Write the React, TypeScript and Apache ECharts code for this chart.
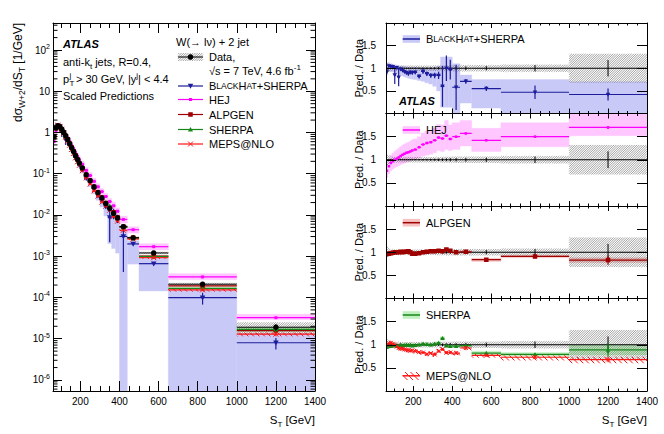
import React, { useEffect, useRef } from "react";
import * as echarts from "echarts";

// ---------------- data ----------------
const binEdges = [60, 70, 80, 90, 100, 110, 120, 130, 140, 150, 160, 170, 180, 190, 200, 220, 240, 260, 280, 300, 320, 340, 360, 380, 400, 440, 500, 650, 1000, 1400];
const xMajorTicks = [200, 400, 600, 800, 1000, 1200, 1400];
const xMinorTicks = [100, 150, 250, 300, 350, 450, 500, 550, 650, 700, 750, 850, 900, 950, 1050, 1100, 1150, 1250, 1300, 1350];
const logDecades = [-7, -6, -5, -4, -3, -2, -1, 0, 1, 2];
const logMinorMultipliers = [2, 3, 4, 5, 6, 7, 8, 9];

// data dsigma/dST [1/GeV]
const dataXS = [0.80, 1.30, 1.45, 1.38, 1.20, 1.00, 0.83, 0.68, 0.54, 0.43, 0.35, 0.275, 0.224, 0.182, 0.138, 0.095, 0.068, 0.048, 0.035, 0.026, 0.019, 0.0145, 0.011, 0.0085, 0.0052, 0.0028, 0.0012, 0.00021, 0.000019];
const dataStat = [0.01, 0.006, 0.006, 0.006, 0.006, 0.006, 0.007, 0.007, 0.008, 0.008, 0.009, 0.01, 0.01, 0.011, 0.012, 0.014, 0.016, 0.018, 0.02, 0.022, 0.025, 0.028, 0.031, 0.035, 0.035, 0.04, 0.045, 0.07, 0.18];
const dataSyst = [0.12, 0.09, 0.07, 0.065, 0.06, 0.06, 0.06, 0.06, 0.06, 0.06, 0.06, 0.06, 0.06, 0.06, 0.06, 0.06, 0.06, 0.06, 0.06, 0.06, 0.06, 0.065, 0.065, 0.065, 0.07, 0.07, 0.07, 0.08, 0.32];

// predictions / data
const bhRatio = [0.93, 1.05, 1.04, 1.03, 0.85, 1.01, 0.80, 0.98, 0.95, 0.92, 0.90, 0.88, 0.91, 0.90, 0.91, 0.82, 0.93, 0.88, 0.84, 0.84, 0.84, 0.60, 1.00, 0.97, 0.58, 0.71, 0.55, 0.47, 0.42];
const bhStat = [0.04, 0.02, 0.02, 0.02, 0.2, 0.03, 0.2, 0.03, 0.03, 0.03, 0.04, 0.04, 0.04, 0.04, 0.04, 0.04, 0.05, 0.05, 0.05, 0.06, 0.08, 0.45, 0.28, 0.22, 0.5, 0.05, 0.05, 0.15, 0.13];
const bhBandLo = [0.85, 0.93, 0.93, 0.92, 0.9, 0.88, 0.86, 0.85, 0.83, 0.81, 0.8, 0.78, 0.77, 0.76, 0.75, 0.73, 0.71, 0.68, 0.65, 0.6, 0.5, 0.14, 0.14, 0.14, 0.0, 0.23, 0.12, 0.0, 0.0];
const bhBandHi = [1.1, 1.12, 1.1, 1.09, 1.08, 1.07, 1.06, 1.05, 1.05, 1.04, 1.03, 1.03, 1.02, 1.02, 1.02, 1.01, 1.01, 1.0, 1.0, 1.0, 1.05, 1.25, 1.25, 1.25, 1.1, 0.85, 0.75, 0.75, 0.7];

const hejRatio = [0.76, 0.86, 0.93, 0.97, 1.0, 1.02, 1.05, 1.08, 1.11, 1.13, 1.15, 1.16, 1.18, 1.2, 1.22, 1.27, 1.33, 1.36, 1.38, 1.42, 1.48, 1.46, 1.52, 1.45, 1.5, 1.57, 1.42, 1.5, 1.7];
const hejStat = [0.02, 0.015, 0.01, 0.01, 0.01, 0.01, 0.01, 0.01, 0.01, 0.01, 0.01, 0.01, 0.01, 0.01, 0.01, 0.012, 0.012, 0.014, 0.015, 0.016, 0.018, 0.02, 0.02, 0.022, 0.02, 0.02, 0.02, 0.025, 0.03];
const hejBandLo = [0.62, 0.7, 0.76, 0.8, 0.83, 0.85, 0.87, 0.89, 0.91, 0.93, 0.95, 0.96, 0.98, 1.0, 1.01, 1.04, 1.08, 1.1, 1.12, 1.15, 1.2, 1.18, 1.22, 1.2, 1.22, 1.3, 1.18, 1.28, 1.52];
const hejBandHi = [0.92, 1.02, 1.1, 1.14, 1.18, 1.21, 1.25, 1.28, 1.31, 1.34, 1.36, 1.38, 1.4, 1.43, 1.45, 1.5, 1.58, 1.62, 1.64, 1.68, 1.76, 1.75, 1.85, 1.75, 1.8, 1.85, 1.68, 1.8, 2.05];

const alpRatio = [0.96, 0.97, 0.98, 0.99, 1.0, 1.0, 1.0, 1.01, 1.0, 1.01, 1.01, 1.02, 1.0, 0.97, 0.97, 0.98, 1.0, 1.01, 1.02, 1.02, 1.03, 1.02, 1.06, 1.03, 1.0, 1.01, 0.84, 0.91, 0.83];
const alpStat = [0.02, 0.01, 0.01, 0.01, 0.01, 0.01, 0.01, 0.01, 0.01, 0.01, 0.01, 0.01, 0.01, 0.01, 0.01, 0.01, 0.012, 0.012, 0.014, 0.015, 0.016, 0.018, 0.02, 0.02, 0.02, 0.02, 0.02, 0.04, 0.1];
const alpBandLo = [0.92, 0.94, 0.95, 0.96, 0.97, 0.97, 0.97, 0.98, 0.97, 0.98, 0.98, 0.99, 0.97, 0.94, 0.94, 0.95, 0.97, 0.98, 0.99, 0.99, 1.0, 0.99, 1.03, 1.0, 0.97, 0.98, 0.8, 0.88, 0.78];
const alpBandHi = [1.0, 1.0, 1.01, 1.02, 1.03, 1.03, 1.03, 1.04, 1.03, 1.04, 1.04, 1.05, 1.03, 1.0, 1.0, 1.01, 1.03, 1.04, 1.05, 1.05, 1.06, 1.05, 1.09, 1.06, 1.03, 1.04, 0.87, 0.94, 0.88];

const shRatio = [0.95, 0.98, 0.97, 0.98, 0.99, 0.97, 0.98, 1.0, 0.98, 0.99, 1.0, 0.99, 1.0, 0.98, 0.99, 1.0, 1.02, 1.01, 1.0, 1.02, 1.04, 1.14, 0.98, 0.97, 0.97, 0.98, 0.82, 0.79, 0.89];
const shStat = [0.02, 0.01, 0.01, 0.01, 0.01, 0.01, 0.01, 0.01, 0.01, 0.01, 0.01, 0.01, 0.01, 0.012, 0.012, 0.012, 0.014, 0.014, 0.016, 0.016, 0.018, 0.03, 0.02, 0.02, 0.02, 0.02, 0.02, 0.03, 0.15];
const shBandLo = [0.92, 0.95, 0.94, 0.95, 0.96, 0.94, 0.95, 0.97, 0.95, 0.96, 0.97, 0.96, 0.97, 0.95, 0.96, 0.97, 0.99, 0.98, 0.97, 0.99, 1.01, 1.1, 0.95, 0.94, 0.94, 0.95, 0.78, 0.75, 0.78];
const shBandHi = [0.98, 1.01, 1.0, 1.01, 1.02, 1.0, 1.01, 1.03, 1.01, 1.02, 1.03, 1.02, 1.03, 1.01, 1.02, 1.03, 1.05, 1.04, 1.03, 1.05, 1.07, 1.18, 1.01, 1.0, 1.0, 1.01, 0.86, 0.83, 1.0];

const mepsRatio = [1.0, 1.03, 1.04, 1.02, 1.0, 0.96, 0.93, 0.92, 0.91, 0.9, 0.89, 0.88, 0.87, 0.88, 0.86, 0.84, 0.83, 0.8, 0.82, 0.79, 0.86, 0.9, 0.83, 0.83, 0.82, 0.93, 0.77, 0.73, 0.68];
const mepsStat = [0.03, 0.02, 0.02, 0.02, 0.02, 0.02, 0.02, 0.02, 0.02, 0.02, 0.02, 0.02, 0.02, 0.02, 0.02, 0.02, 0.025, 0.025, 0.025, 0.03, 0.03, 0.03, 0.03, 0.03, 0.03, 0.03, 0.03, 0.04, 0.06];
const mepsBandLo = [0.95, 0.98, 0.99, 0.97, 0.95, 0.91, 0.88, 0.87, 0.86, 0.85, 0.84, 0.83, 0.82, 0.83, 0.81, 0.79, 0.78, 0.75, 0.77, 0.74, 0.81, 0.85, 0.78, 0.78, 0.77, 0.88, 0.72, 0.66, 0.6];
const mepsBandHi = [1.05, 1.08, 1.09, 1.07, 1.05, 1.01, 0.98, 0.97, 0.96, 0.95, 0.94, 0.93, 0.92, 0.93, 0.91, 0.89, 0.88, 0.85, 0.87, 0.84, 0.91, 0.95, 0.88, 0.88, 0.87, 0.98, 0.8, 0.77, 0.74];

// ---------------- styling ----------------
const FONT = '"Liberation Sans", Arial, Helvetica, sans-serif';
const X_MIN = 60, X_MAX = 1400;
const Y_MIN = 5.4e-7, Y_MAX = 452;
const R_MIN = 0, R_MAX = 2;

const COL = {
  bh: "#1c1c9c", bhBand: "#c9c9f8",
  hej: "#ff00ff", hejBand: "#ffc6ff",
  alp: "#9e0000", alpBand: "#f6c2c2",
  sh: "#17871a", shBand: "#c0f0c0",
  meps: "#ff1414",
  data: "#000000", hatch: "#555555",
};

const binLo = binEdges.slice(0, -1);
const binHi = binEdges.slice(1);
const binC = binLo.map((l, i) => (l + binHi[i]) / 2);

const logMinorTicks: number[] = [];
logDecades.forEach((e) => logMinorMultipliers.forEach((k) => {
  const v = k * Math.pow(10, e);
  if (v > Y_MIN && v < Y_MAX) logMinorTicks.push(v);
}));

const clampLog = (v: number) => Math.max(v, Y_MIN * 0.8);

// ---------------- drawing helpers ----------------
function hatchSegments(x0: number, y0: number, x1: number, y1: number, spacing: number, dir: number, style: any) {
  const out: any[] = [];
  if (x1 <= x0 || y1 <= y0) return out;
  if (dir > 0) {
    const cmin = x0 + y0, cmax = x1 + y1;
    for (let c = Math.ceil(cmin / spacing) * spacing; c <= cmax; c += spacing) {
      const xa = Math.max(x0, c - y1), xb = Math.min(x1, c - y0);
      if (xb > xa) out.push({ type: "line", silent: true, shape: { x1: xa, y1: c - xa, x2: xb, y2: c - xb }, style });
    }
  } else {
    const cmin = x0 - y1, cmax = x1 - y0;
    for (let c = Math.ceil(cmin / spacing) * spacing; c <= cmax; c += spacing) {
      const xa = Math.max(x0, c + y0), xb = Math.min(x1, c + y1);
      if (xb > xa) out.push({ type: "line", silent: true, shape: { x1: xa, y1: xa - c, x2: xb, y2: xb - c }, style });
    }
  }
  return out;
}

function markerShapes(m: string, cx: number, cy: number, s: number, color: string): any[] {
  const h = s / 2;
  switch (m) {
    case "circle": return [{ type: "circle", shape: { cx, cy, r: h }, style: { fill: color } }];
    case "square": return [{ type: "rect", shape: { x: cx - h, y: cy - h, width: s, height: s }, style: { fill: color } }];
    case "small": return [{ type: "rect", shape: { x: cx - h, y: cy - h, width: s, height: s }, style: { fill: color } }];
    case "triDown": return [{ type: "polygon", shape: { points: [[cx - h, cy - s * 0.4], [cx + h, cy - s * 0.4], [cx, cy + s * 0.5]] }, style: { fill: color } }];
    case "triUp": return [{ type: "polygon", shape: { points: [[cx - h, cy + s * 0.4], [cx + h, cy + s * 0.4], [cx, cy - s * 0.5]] }, style: { fill: color } }];
    case "x": return [
      { type: "line", shape: { x1: cx - h, y1: cy - h, x2: cx + h, y2: cy + h }, style: { stroke: color, lineWidth: 1 } },
      { type: "line", shape: { x1: cx - h, y1: cy + h, x2: cx + h, y2: cy - h }, style: { stroke: color, lineWidth: 1 } },
    ];
    default: return [];
  }
}

function fillBand(ax: number[], lowArr: number[], highArr: number[], color: string, yFloor: number, yCeil: number) {
  return {
    type: "custom", xAxisIndex: ax[0], yAxisIndex: ax[1], clip: true, silent: true, z: 2,
    encode: { x: [0, 1], y: [2, 3] },
    data: binLo.map((l, i) => [l, binHi[i], lowArr[i], highArr[i]]),
    renderItem: (params: any, api: any) => {
      const a = api.coord([api.value(0), Math.min(api.value(3), yCeil)]);
      const b = api.coord([api.value(1), Math.max(api.value(2), yFloor)]);
      return { type: "rect", shape: { x: a[0], y: a[1], width: b[0] - a[0], height: b[1] - a[1] }, style: { fill: color, stroke: color, lineWidth: 0.4 } };
    },
  };
}

function hatchBand(ax: number[], lowArr: number[], highArr: number[], color: string, spacing: number, dir: number, lw: number, yFloor: number, yCeil: number) {
  return {
    type: "custom", xAxisIndex: ax[0], yAxisIndex: ax[1], clip: true, silent: true, z: 2,
    encode: { x: [0, 1], y: [2, 3] },
    data: binLo.map((l, i) => [l, binHi[i], lowArr[i], highArr[i]]),
    renderItem: (params: any, api: any) => {
      const a = api.coord([api.value(0), Math.min(api.value(3), yCeil)]);
      const b = api.coord([api.value(1), Math.max(api.value(2), yFloor)]);
      return { type: "group", children: hatchSegments(a[0], a[1], b[0], b[1], spacing, dir, { stroke: color, lineWidth: lw }) };
    },
  };
}

function pointSeries(ax: number[], ys: number[], ylo: number[], yhi: number[], color: string, marker: string, size: number, lw: number, yFloor: number, yCeil: number) {
  return {
    type: "custom", xAxisIndex: ax[0], yAxisIndex: ax[1], clip: true, silent: true, z: 3,
    encode: { x: [0, 1, 2], y: [3, 4, 5] },
    data: binC.map((c, i) => [c, binLo[i], binHi[i], ys[i], ylo[i], yhi[i]]),
    renderItem: (params: any, api: any) => {
      const xc = api.value(0), y = api.value(3);
      const L = api.coord([api.value(1), y]);
      const R = api.coord([api.value(2), y]);
      const T = api.coord([xc, Math.min(api.value(5), yCeil)]);
      const B = api.coord([xc, Math.max(api.value(4), yFloor)]);
      const st = { stroke: color, lineWidth: lw };
      const P = api.coord([xc, y]);
      const children: any[] = [
        { type: "line", shape: { x1: L[0], y1: L[1], x2: R[0], y2: R[1] }, style: st },
        { type: "line", shape: { x1: T[0], y1: T[1], x2: B[0], y2: B[1] }, style: st },
        ...markerShapes(marker, P[0], P[1], size, color),
      ];
      return { type: "group", children };
    },
  };
}

// ---------------- axes ----------------
function xAxesFor(grid: number, majorLen: number, minorLen: number, labels: boolean) {
  const base: any = { type: "value", gridIndex: grid, min: X_MIN, max: X_MAX, splitLine: { show: false }, z: 10 };
  const line = { show: true, onZero: false, lineStyle: { color: "#000", width: 1 } };
  const tickStyle = { color: "#000", width: 1 };
  return [
    { ...base, position: "bottom", axisLine: line, axisTick: { show: true, inside: true, length: majorLen, customValues: xMajorTicks, lineStyle: tickStyle },
      axisLabel: { show: labels, customValues: xMajorTicks, fontSize: 10, color: "#000", margin: 5, fontFamily: FONT, formatter: (v: number) => String(v) } },
    { ...base, position: "bottom", axisLine: { show: false, onZero: false }, axisTick: { show: true, inside: true, length: minorLen, customValues: xMinorTicks, lineStyle: tickStyle }, axisLabel: { show: false } },
    { ...base, position: "top", axisLine: line, axisTick: { show: true, inside: true, length: majorLen, customValues: xMajorTicks, lineStyle: tickStyle }, axisLabel: { show: false } },
    { ...base, position: "top", axisLine: { show: false, onZero: false }, axisTick: { show: true, inside: true, length: minorLen, customValues: xMinorTicks, lineStyle: tickStyle }, axisLabel: { show: false } },
  ];
}

const logLabel = (v: number) => {
  const e = Math.log10(v);
  const r = Math.round(e);
  if (Math.abs(e - r) > 1e-3) return "";
  if (r === 0) return "1";
  if (r === 1) return "10";
  return `10{sup|${r}}`;
};

function mainYAxes() {
  const base: any = { type: "log", logBase: 10, gridIndex: 0, min: Y_MIN, max: Y_MAX, splitLine: { show: false }, minorTick: { show: false }, z: 10 };
  const line = { show: true, onZero: false, lineStyle: { color: "#000", width: 1 } };
  return [
    { ...base, position: "left", axisLine: line, axisTick: { show: true, inside: true, length: 9, lineStyle: { color: "#000" } },
      axisLabel: { show: true, formatter: logLabel, showMinLabel: false, showMaxLabel: false, fontSize: 10, color: "#000", margin: 3, fontFamily: FONT, lineHeight: 14,
        rich: { sup: { fontSize: 7, fontFamily: FONT, color: "#000", verticalAlign: "top" } } } },
    { ...base, position: "right", axisLine: line, axisTick: { show: true, inside: true, length: 9, lineStyle: { color: "#000" } }, axisLabel: { show: false } },
  ];
}

function ratioYAxes(grid: number) {
  const base: any = { type: "value", gridIndex: grid, min: R_MIN, max: R_MAX, interval: 0.5, splitLine: { show: false }, z: 10 };
  const line = { show: true, onZero: false, lineStyle: { color: "#000", width: 1 } };
  return [
    { ...base, position: "left", axisLine: line, axisTick: { show: true, inside: true, length: 10, lineStyle: { color: "#000" } },
      axisLabel: { show: true, fontSize: 10, color: "#000", margin: 10, fontFamily: FONT,
        formatter: (v: number) => (v === 0.5 || v === 1 || v === 1.5 ? String(v) : "") } },
    { ...base, position: "right", axisLine: line, axisTick: { show: true, inside: true, length: 10, lineStyle: { color: "#000" } }, axisLabel: { show: false } },
  ];
}

// ---------------- series ----------------
const mainAx = [0, 0];
const rAx = (g: number) => [g * 4, g * 2];

function mainPred(ratio: number[], stat: number[]) {
  return {
    y: dataXS.map((d, i) => d * ratio[i]),
    lo: dataXS.map((d, i) => clampLog(d * (ratio[i] - stat[i]))),
    hi: dataXS.map((d, i) => d * (ratio[i] + stat[i])),
  };
}
const mainBandLo = (lo: number[]) => dataXS.map((d, i) => clampLog(d * lo[i]));
const mainBandHi = (hi: number[]) => dataXS.map((d, i) => d * hi[i]);

const pBH = mainPred(bhRatio, bhStat);
const pHEJ = mainPred(hejRatio, hejStat);
const pALP = mainPred(alpRatio, alpStat);
const pSH = mainPred(shRatio, shStat);
const pMEPS = mainPred(mepsRatio, mepsStat);

const ones = dataXS.map(() => 1);
const ratioDataLo = dataStat.map((s) => 1 - s);
const ratioDataHi = dataStat.map((s) => 1 + s);
const ratioSystLo = dataSyst.map((s) => 1 - s);
const ratioSystHi = dataSyst.map((s) => 1 + s);
const sub = (a: number[], b: number[]) => a.map((v, i) => v - b[i]);
const add = (a: number[], b: number[]) => a.map((v, i) => v + b[i]);

const HATCH_SP = 2.3, HATCH_LW = 0.55;
const MEPS_SP = 5.5;

const series: any[] = [
  // main panel
  fillBand(mainAx, mainBandLo(bhBandLo), mainBandHi(bhBandHi), COL.bhBand, Y_MIN, Y_MAX),
  fillBand(mainAx, mainBandLo(hejBandLo), mainBandHi(hejBandHi), COL.hejBand, Y_MIN, Y_MAX),
  fillBand(mainAx, mainBandLo(alpBandLo), mainBandHi(alpBandHi), COL.alpBand, Y_MIN, Y_MAX),
  fillBand(mainAx, mainBandLo(shBandLo), mainBandHi(shBandHi), COL.shBand, Y_MIN, Y_MAX),
  hatchBand(mainAx, mainBandLo(mepsBandLo), mainBandHi(mepsBandHi), COL.meps, MEPS_SP, -1, 1, Y_MIN, Y_MAX),
  hatchBand(mainAx, dataXS.map((d, i) => d * (1 - dataSyst[i])), dataXS.map((d, i) => d * (1 + dataSyst[i])), COL.hatch, HATCH_SP, 1, HATCH_LW, Y_MIN, Y_MAX),
  pointSeries(mainAx, pBH.y, pBH.lo, pBH.hi, COL.bh, "triDown", 5.5, 1.2, Y_MIN, Y_MAX),
  pointSeries(mainAx, pHEJ.y, pHEJ.lo, pHEJ.hi, COL.hej, "small", 3, 1.2, Y_MIN, Y_MAX),
  pointSeries(mainAx, pALP.y, pALP.lo, pALP.hi, COL.alp, "square", 4.5, 1.2, Y_MIN, Y_MAX),
  pointSeries(mainAx, pSH.y, pSH.lo, pSH.hi, COL.sh, "triUp", 5, 1.2, Y_MIN, Y_MAX),
  pointSeries(mainAx, pMEPS.y, pMEPS.lo, pMEPS.hi, COL.meps, "x", 5, 1.1, Y_MIN, Y_MAX),
  pointSeries(mainAx, dataXS, dataXS.map((d, i) => d * (1 - dataStat[i])), dataXS.map((d, i) => d * (1 + dataStat[i])), COL.data, "circle", 5.5, 1, Y_MIN, Y_MAX),
  {
    type: "custom", xAxisIndex: 0, yAxisIndex: 0, silent: true, z: 10,
    encode: { x: 0, y: 1 },
    data: logMinorTicks.map((v) => [X_MIN, v]),
    renderItem: (params: any, api: any) => {
      const v = api.value(1);
      const a = api.coord([X_MIN, v]);
      const b = api.coord([X_MAX, v]);
      const st = { stroke: "#000", lineWidth: 1 };
      return { type: "group", children: [
        { type: "line", shape: { x1: a[0], y1: a[1], x2: a[0] + 4.5, y2: a[1] }, style: st },
        { type: "line", shape: { x1: b[0] - 4.5, y1: b[1], x2: b[0], y2: b[1] }, style: st },
      ] };
    },
  },
];

function ratioPanel(g: number, preds: any[]) {
  const ax = rAx(g);
  const out: any[] = [];
  preds.forEach((p) => {
    if (p.hatch) out.push(hatchBand(ax, p.lo, p.hi, p.color, MEPS_SP, -1, 1, R_MIN, R_MAX));
    else out.push(fillBand(ax, p.lo, p.hi, p.band, R_MIN, R_MAX));
  });
  out.push(hatchBand(ax, ratioSystLo, ratioSystHi, COL.hatch, HATCH_SP, 1, HATCH_LW, R_MIN, R_MAX));
  out.push(pointSeries(ax, ones, ratioDataLo, ratioDataHi, COL.data, "none", 0, 1, R_MIN, R_MAX));
  preds.forEach((p) => {
    out.push(pointSeries(ax, p.r, sub(p.r, p.s), add(p.r, p.s), p.color, p.marker, p.size, 1.2, R_MIN, R_MAX));
  });
  return out;
}

series.push(...ratioPanel(1, [{ r: bhRatio, s: bhStat, lo: bhBandLo, hi: bhBandHi, color: COL.bh, band: COL.bhBand, marker: "triDown", size: 4.5 }]));
series.push(...ratioPanel(2, [{ r: hejRatio, s: hejStat, lo: hejBandLo, hi: hejBandHi, color: COL.hej, band: COL.hejBand, marker: "small", size: 2.5 }]));
series.push(...ratioPanel(3, [{ r: alpRatio, s: alpStat, lo: alpBandLo, hi: alpBandHi, color: COL.alp, band: COL.alpBand, marker: "square", size: 4.5 }]));
series.push(...ratioPanel(4, [
  { r: shRatio, s: shStat, lo: shBandLo, hi: shBandHi, color: COL.sh, band: COL.shBand, marker: "triUp", size: 4.5 },
  { r: mepsRatio, s: mepsStat, lo: mepsBandLo, hi: mepsBandHi, color: COL.meps, hatch: true, marker: "x", size: 4 },
]));

// ---------------- texts & legends (graphic) ----------------
const RICH = {
  sub: { fontSize: 8, fontFamily: FONT, color: "#000", verticalAlign: "bottom" },
  sup: { fontSize: 8, fontFamily: FONT, color: "#000", verticalAlign: "top" },
  sc: { fontSize: 8.5, fontFamily: FONT, color: "#000" },
};

function txt(x: number, y: number, text: string, extra: any = {}) {
  return {
    type: "text", x, y, silent: true, z: 20,
    style: { text, fill: "#000", fontSize: 11, fontFamily: FONT, align: "left", verticalAlign: "middle", lineHeight: 16, rich: RICH, ...extra },
  };
}
function gline(x1: number, y1: number, x2: number, y2: number, color: string, lw = 1.2) {
  return { type: "line", silent: true, z: 20, shape: { x1, y1, x2, y2 }, style: { stroke: color, lineWidth: lw } };
}
function withZ(arr: any[]) { return arr.map((e) => ({ ...e, silent: true, z: 20 })); }

const bhText = "B{sc|LACK}H{sc|AT}+SHERPA";
const graphics: any[] = [];

// main panel texts
graphics.push(txt(63, 43.5, "ATLAS", { fontWeight: "bold", fontStyle: "italic" }));
graphics.push(txt(63, 62, "anti-k{sub|t} jets, R=0.4,"));
graphics.push(txt(63, 79, "p"));
graphics.push(txt(69.4, 75.5, "j", { fontSize: 8 }));
graphics.push(txt(69.4, 83, "T", { fontSize: 8 }));
graphics.push(txt(76, 79, "> 30 GeV, |y{sup|j}| < 4.4"));
graphics.push(txt(63, 96, "Scaled Predictions"));

// main legend
const LX0 = 178, LX1 = 203, LXC = 190.5, LT = 209;
graphics.push(txt(176, 41.7, "W(→ lν) + 2 jet"));
graphics.push(...withZ(hatchSegments(LX0, 53, LX1, 61, HATCH_SP, 1, { stroke: COL.hatch, lineWidth: HATCH_LW })));
graphics.push(gline(LX0, 57, LX1, 57, COL.data, 1));
graphics.push(...withZ(markerShapes("circle", LXC, 57, 5.5, COL.data)));
graphics.push(txt(LT, 57, "Data,"));
graphics.push(txt(LT, 71, "√s = 7 TeV, 4.6 fb{sup|-1}"));
const mainLegend = [
  { y: 86, color: COL.bh, marker: "triDown", size: 5.5, text: bhText },
  { y: 99.5, color: COL.hej, marker: "small", size: 3, text: "HEJ" },
  { y: 114.5, color: COL.alp, marker: "square", size: 4.5, text: "ALPGEN" },
  { y: 129.5, color: COL.sh, marker: "triUp", size: 5, text: "SHERPA" },
  { y: 144, color: COL.meps, marker: "x", size: 5, text: "MEPS@NLO" },
];
mainLegend.forEach((l) => {
  graphics.push(gline(LX0, l.y, LX1, l.y, l.color, 1.2));
  graphics.push(...withZ(markerShapes(l.marker, LXC, l.y, l.size, l.color)));
  graphics.push(txt(LT, l.y, l.text));
});

// ratio legends
const RX0 = 402.7, RX1 = 420, RT = 426;
const ratioLegend = [
  { y: 39, color: COL.bh, band: COL.bhBand, text: bhText },
  { y: 130, color: COL.hej, band: COL.hejBand, text: "HEJ" },
  { y: 222.7, color: COL.alp, band: COL.alpBand, text: "ALPGEN" },
  { y: 315, color: COL.sh, band: COL.shBand, text: "SHERPA" },
];
ratioLegend.forEach((l) => {
  graphics.push({ type: "rect", silent: true, z: 20, shape: { x: RX0, y: l.y - 3.8, width: RX1 - RX0, height: 7.6 }, style: { fill: l.band } });
  graphics.push(gline(RX0, l.y, RX1, l.y, l.color, 1.5));
  graphics.push(txt(RT, l.y, l.text));
});
graphics.push(...withZ(hatchSegments(RX0, 372, RX1, 380, MEPS_SP, -1, { stroke: COL.meps, lineWidth: 1 })));
graphics.push(gline(RX0, 375.8, RX1, 375.8, COL.meps, 1.5));
graphics.push(txt(RT, 375.8, "MEPS@NLO"));
graphics.push(txt(399, 100.7, "ATLAS", { fontWeight: "bold", fontStyle: "italic" }));

// axis titles
graphics.push({
  type: "text", x: 18, y: 23, rotation: Math.PI / 2, silent: true, z: 20,
  style: { text: "dσ{sub|W+2}/dS{sub|T} [1/GeV]", fill: "#000", fontSize: 12, fontFamily: FONT, align: "right", verticalAlign: "middle", lineHeight: 16,
    rich: { sub: { fontSize: 8.5, fontFamily: FONT, color: "#000", verticalAlign: "bottom" } } },
});
[68.2, 159.7, 252.2, 344.7].forEach((cy) => {
  graphics.push({
    type: "text", x: 359, y: cy, rotation: Math.PI / 2, silent: true, z: 20,
    style: { text: "Pred. / Data", fill: "#000", fontSize: 11, fontFamily: FONT, align: "center", verticalAlign: "middle" },
  });
});
graphics.push(txt(315, 420, "S{sub|T} [GeV]", { align: "right", fontSize: 11.5 }));
graphics.push(txt(647, 420, "S{sub|T} [GeV]", { align: "right", fontSize: 11.5 }));

// ---------------- option ----------------
const option: any = {
  animation: false,
  backgroundColor: "#ffffff",
  textStyle: { fontFamily: FONT },
  grid: [
    { left: 53, top: 23, width: 262, height: 368, containLabel: false, outerBoundsMode: "none" },
    { left: 386, top: 23, width: 261, height: 90.5, containLabel: false, outerBoundsMode: "none" },
    { left: 386, top: 113.5, width: 261, height: 92.5, containLabel: false, outerBoundsMode: "none" },
    { left: 386, top: 206, width: 261, height: 92.5, containLabel: false, outerBoundsMode: "none" },
    { left: 386, top: 298.5, width: 261, height: 92.5, containLabel: false, outerBoundsMode: "none" },
  ],
  xAxis: [
    ...xAxesFor(0, 10, 5, true),
    ...xAxesFor(1, 5, 2.5, false),
    ...xAxesFor(2, 5, 2.5, false),
    ...xAxesFor(3, 5, 2.5, false),
    ...xAxesFor(4, 5, 2.5, true),
  ],
  yAxis: [
    ...mainYAxes(),
    ...ratioYAxes(1),
    ...ratioYAxes(2),
    ...ratioYAxes(3),
    ...ratioYAxes(4),
  ],
  series,
  graphic: { elements: graphics },
};

export default function App() {
  const ref = useRef<HTMLDivElement>(null);
  useEffect(() => {
    if (!ref.current) return;
    const chart = echarts.init(ref.current, null, { renderer: "svg" });
    chart.setOption(option);
    return () => chart.dispose();
  }, []);
  return <div ref={ref} style={{ position: "absolute", left: 0, top: 0, width: 664, height: 434, background: "#fff" }} />;
}
